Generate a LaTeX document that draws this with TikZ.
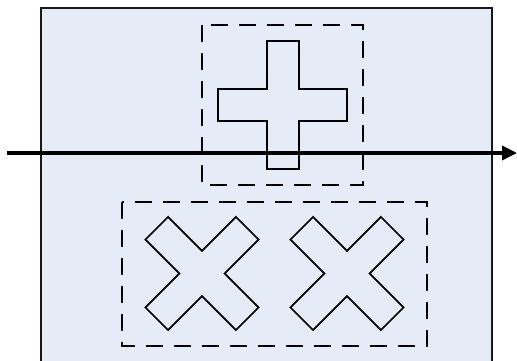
\documentclass[tikz,border=0pt]{standalone}
\usetikzlibrary{arrows.meta}
\definecolor{panelfill}{HTML}{E6ECF7}
\tikzset{
  panel/.style={draw=black!90, line width=2pt, fill=panelfill},
  groupbox/.style={draw=black, line width=1.9pt, dash pattern=on 17pt off 11pt},
  shapeline/.style={draw=black, line width=1.7pt, line join=miter},
  axis/.style={draw=black, line width=3.4pt, -{Triangle[length=15pt,width=14pt]}}
}
% plus-shaped outline, half width 16, half length 64, centred at the origin
\newcommand{\crossoutline}{(-16,-64) -- (16,-64) -- (16,-16) -- (64,-16) -- (64,16) -- (16,16)
  -- (16,64) -- (-16,64) -- (-16,16) -- (-64,16) -- (-64,-16) -- (-16,-16) -- cycle}
\begin{document}
\begin{tikzpicture}[x=1pt,y=-1pt]
  \useasboundingbox (0,0) rectangle (517,360);
  \clip (0,0) rectangle (517,360);
  % background panel running past the lower edge
  \path[panel] (41,8) rectangle (492,372);
  % upper group: cross with a lengthened lower arm
  \path[groupbox] (202,25) rectangle (363,185);
  \path[shapeline] (267,41) -- (299,41) -- (299,89) -- (347,89) -- (347,121) -- (299,121)
    -- (299,169) -- (267,169) -- (267,121) -- (218,121) -- (218,89) -- (267,89) -- cycle;
  % lower group: two rotated crosses
  \path[groupbox] (122,202) rectangle (427,346);
  \begin{scope}[shift={(202,273.5)}, rotate=45]
    \path[shapeline] \crossoutline;
  \end{scope}
  \begin{scope}[shift={(347,273.5)}, rotate=45]
    \path[shapeline] \crossoutline;
  \end{scope}
  % horizontal axis
  \coordinate (axstart) at (7,153);
  \coordinate (axend) at (517,153);
  \draw[axis] (axstart) -- (axend);
\end{tikzpicture}
\end{document}
